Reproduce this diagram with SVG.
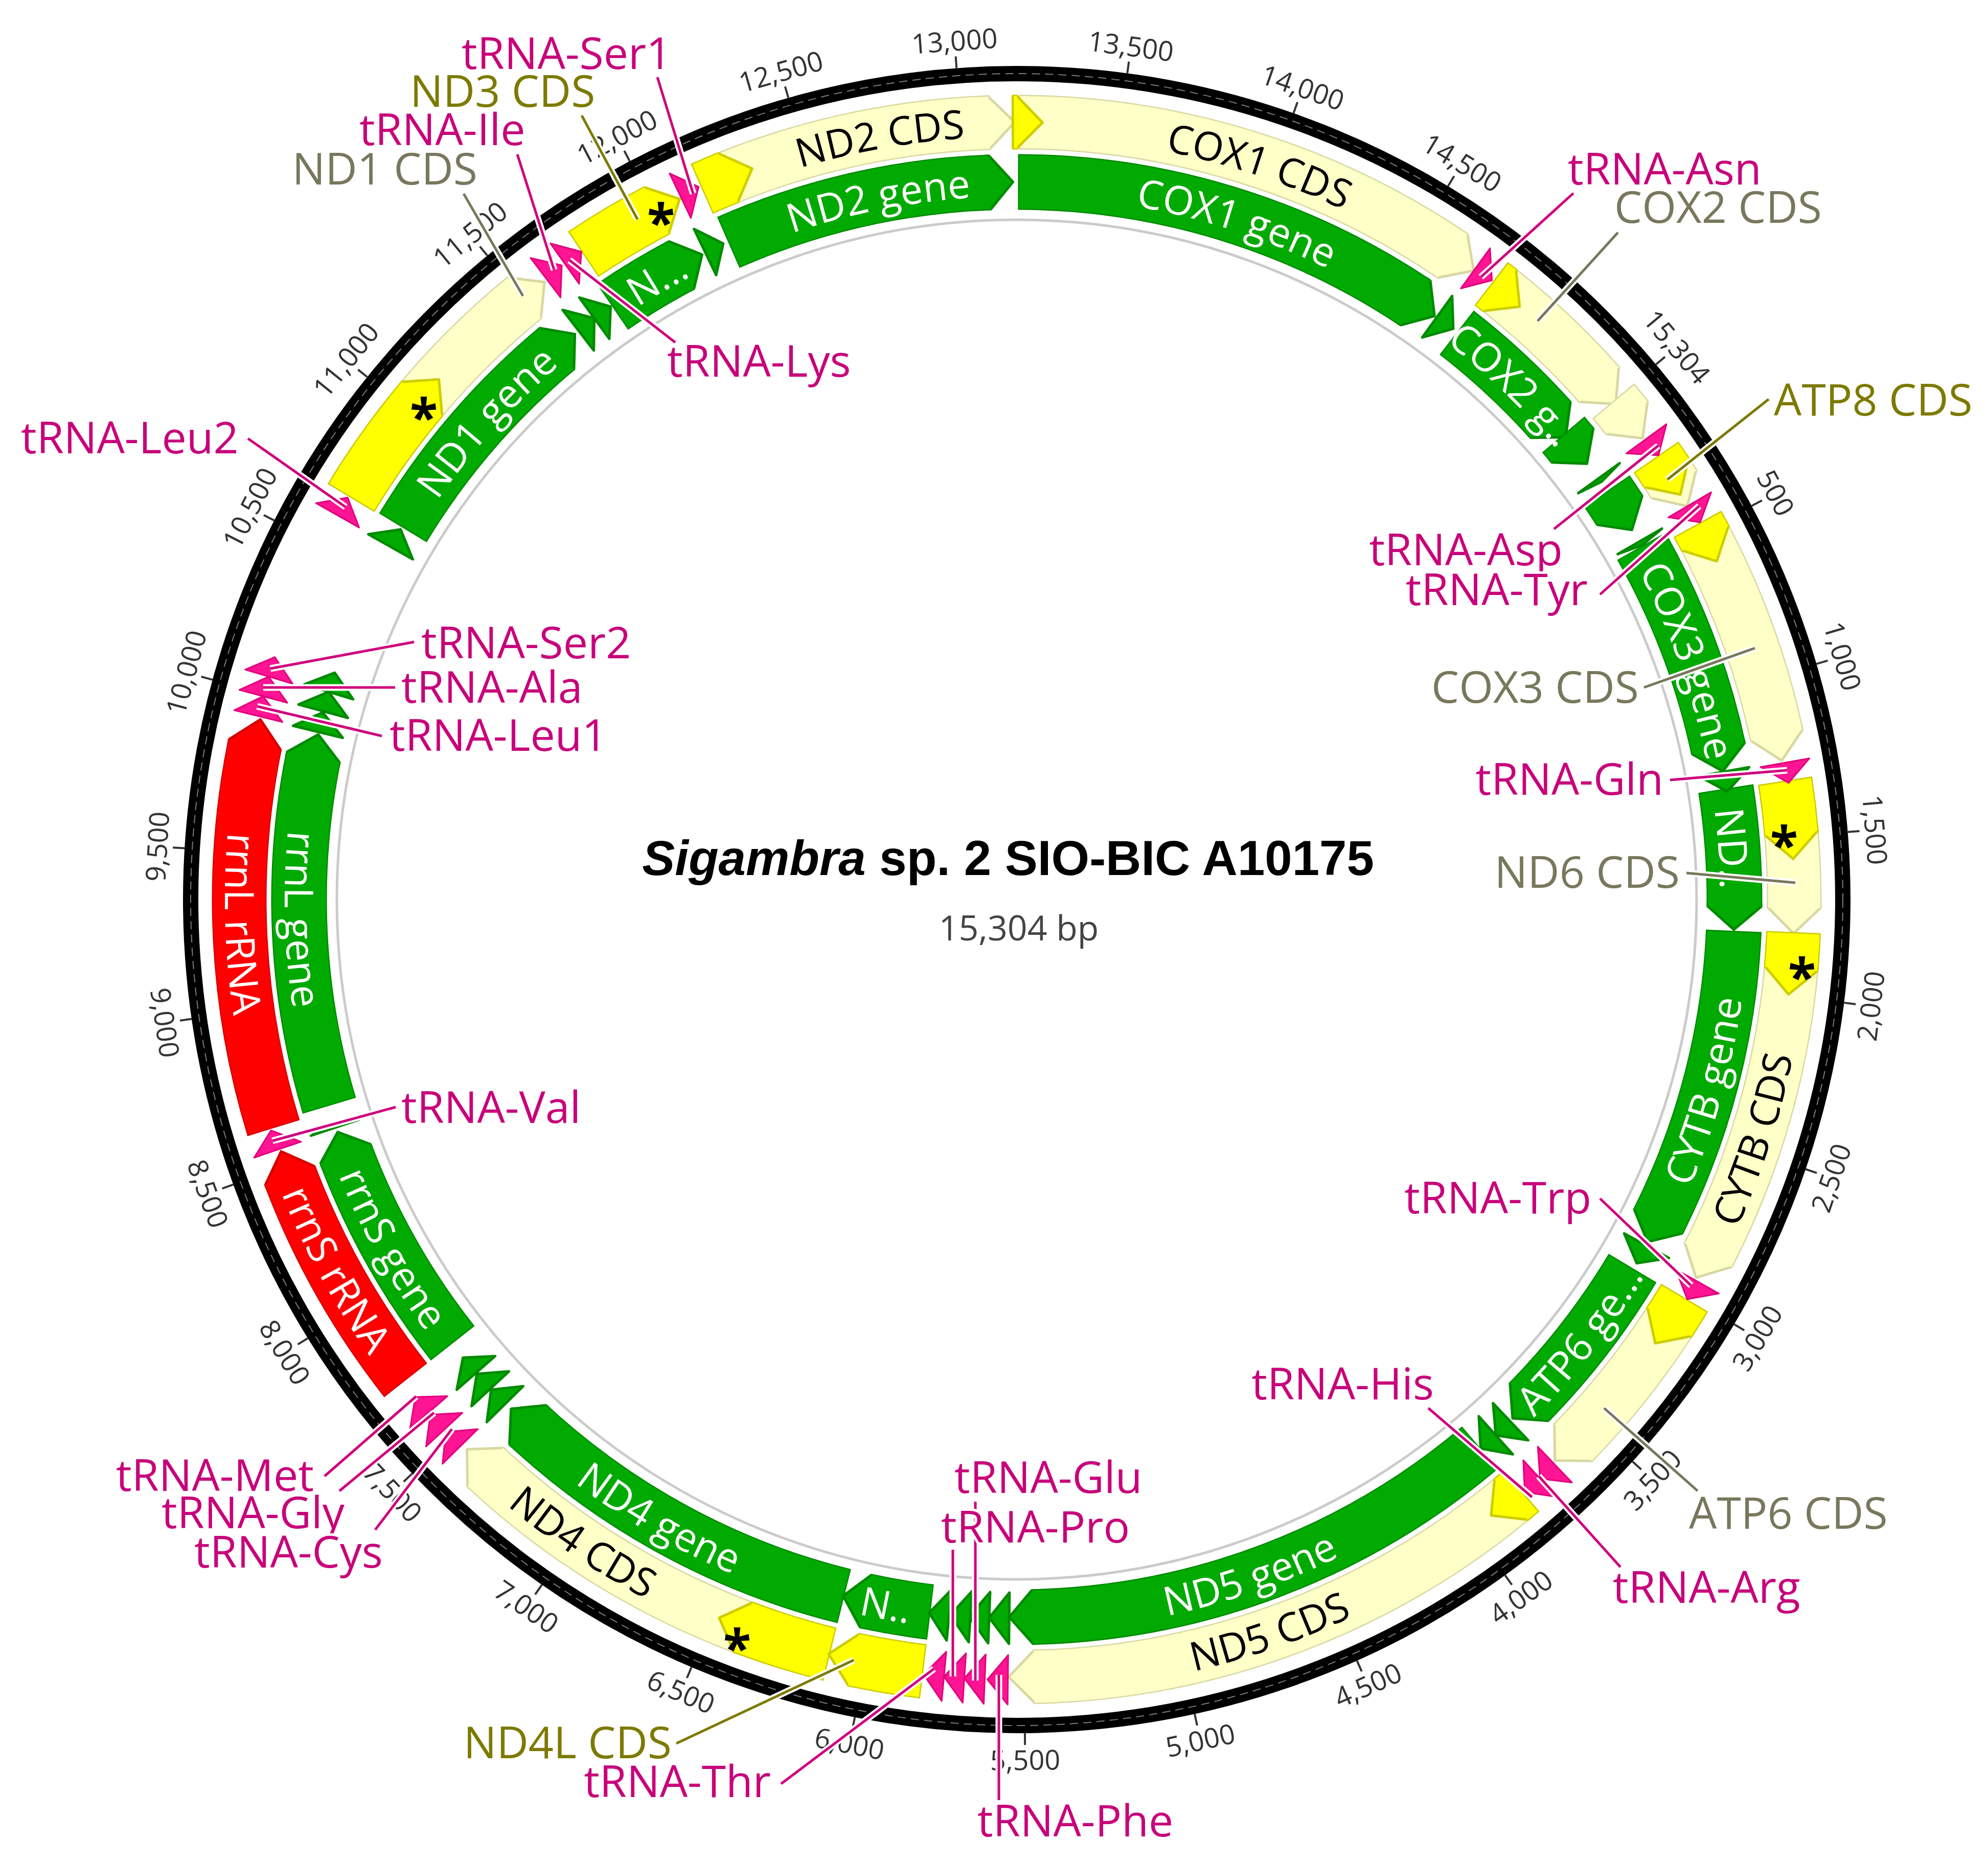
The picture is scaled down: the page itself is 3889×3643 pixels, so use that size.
<svg xmlns="http://www.w3.org/2000/svg" width="3889" height="3643" viewBox="0 0 3889 3643">
<style>
.t{fill:none}
.cO{stroke-width:107}.cB{stroke-width:102}
.gO{stroke-width:109}.gB{stroke-width:104}
.lyO{stroke:#d8d8a2}.lyB{stroke:#ffffc8}.ly{fill:#ffffc8;stroke:#d8d8a2;stroke-width:5;stroke-linejoin:round}
.byO{stroke:#cdcd00}.byB{stroke:#ffff00}.by{fill:#ffff00;stroke:#cdcd00;stroke-width:5;stroke-linejoin:round}
.grO{stroke:#008a00}.grB{stroke:#00aa00}.gr{fill:#00aa00;stroke:#008a00;stroke-width:5;stroke-linejoin:round}
.rdO{stroke:#d80000}.rdB{stroke:#ff0000}.rd{fill:#ff0000;stroke:#d80000;stroke-width:5;stroke-linejoin:round}
.tr{fill:#ff1493;stroke:#e0007c;stroke-width:3;stroke-linejoin:round}
.fl{font-family:"Open Sans","Noto Sans","DejaVu Sans",sans-serif;font-size:78px;text-anchor:middle}
.wt{fill:#ffffff}.bk{fill:#000000}
.xl{font-family:"Open Sans","Noto Sans","DejaVu Sans",sans-serif;font-size:86px;stroke:#ffffff;stroke-width:10;stroke-linejoin:round;paint-order:stroke}
.mg{fill:#c8007a}.ol{fill:#7d7a00}.gy{fill:#77785c}
.e{text-anchor:end}
.lh{fill:none;stroke:#ffffff;stroke-width:13}
.lm{fill:none;stroke:#d0007c;stroke-width:5}
.lo{fill:none;stroke:#7d7a00;stroke-width:5}
.lg{fill:none;stroke:#77785c;stroke-width:5}
.tk{stroke:#333333;stroke-width:4}
.tl{font-family:"Open Sans","Noto Sans","DejaVu Sans",sans-serif;font-size:54px;fill:#333333;text-anchor:middle}
.ast{font-family:"Open Sans","DejaVu Sans",sans-serif;font-size:100px;font-weight:bold;fill:#000000;text-anchor:middle}
</style>
<defs>
<polygon id="ahC" points="-56.01,-1468.93 -59.89,-1570.86 -51.67,-1571.15 0,-1521 -48.31,-1469.21"/>
<polygon id="ahG" points="-50.40,-1351.06 -54.28,-1454.99 -46.66,-1455.25 0,-1404 -43.33,-1351.31"/>
<polygon id="trM" points="0,-1478 0,-1575 39.97,-1526.5"/>
<polygon id="trG" points="0,-1356 0,-1456 39.26,-1405.5"/>
<polygon id="trGt" points="0,-1356 0,-1456 8.6,-1406"/>
<line id="tk" x1="0" y1="-1631" x2="0" y2="-1654"/>
<path id="pcC" d="M0,1493A1493,1493 0 1,1 0,-1493A1493,1493 0 1,1 0,1493"/>
<path id="pfC" d="M0,-1549A1549,1549 0 1,0 0,1549A1549,1549 0 1,0 0,-1549"/>
<path id="pcG" d="M0,1376A1376,1376 0 1,1 0,-1376A1376,1376 0 1,1 0,1376"/>
<path id="pfG" d="M0,-1432A1432,1432 0 1,0 0,1432A1432,1432 0 1,0 0,-1432"/>
<path id="kSer1" d="M1286,151L1356,379"/>
<path id="kIle" d="M1012,302L1084,528"/>
<path id="kLys" d="M1321,670L1114,509"/>
<path id="kAsn" d="M3078,378L2897,542"/>
<path id="kAsp" d="M3040,1035L3244,872"/>
<path id="kTyr" d="M3130,1163L3324,990"/>
<path id="kGln" d="M3267,1526L3496,1507"/>
<path id="kTrp" d="M3130,2345L3308,2515"/>
<path id="kHis" d="M2794,2755L2997,2929"/>
<path id="kArg" d="M3170,3066L3010,2888"/>
<path id="kGlu" d="M1908,2938L1908,3288"/>
<path id="kPro" d="M1864,3032L1864,3280"/>
<path id="kPhe" d="M1954,3522L1954,3277"/>
<path id="kThr" d="M1528,3490L1827,3265"/>
<path id="kMet" d="M635,2888L814,2732"/>
<path id="kGly" d="M664,2917L849,2764"/>
<path id="kCys" d="M734,2993L884,2796"/>
<path id="kVal" d="M774,2166L533,2232"/>
<path id="kSer2" d="M810,1256L529,1308"/>
<path id="kAla" d="M773,1345L515,1345"/>
<path id="kLeu1" d="M747,1440L503,1382"/>
<path id="kLeu2" d="M485,858L676,992"/>
<path id="kND3" d="M1138,226L1247,429"/>
<path id="kND1" d="M907,379L1023,579"/>
<path id="kCOX2" d="M3165,455L3008,628"/>
<path id="kATP8" d="M3460,781L3262,938"/>
<path id="kCOX3" d="M3216,1345L3433,1268"/>
<path id="kND6" d="M3299,1708L3512,1727"/>
<path id="kATP6" d="M3321,2917L3138,2755"/>
<path id="kND4L" d="M1323,3411L1670,3248"/>
</defs>
<rect width="3889" height="3643" fill="#ffffff"/>
<g id="backbone" transform="translate(1989 1760)">
<circle r="1330" fill="none" stroke="#cbcbcb" stroke-width="5"/>
<circle r="1616" fill="none" stroke="#000000" stroke-width="30"/>
<circle r="1616" fill="none" stroke="#7a7a7a" stroke-width="2" stroke-dasharray="16 10"/>
<g class="tk">
<use href="#tk" transform="rotate(61.82)"/><use href="#tk" transform="rotate(73.58)"/><use href="#tk" transform="rotate(85.35)"/><use href="#tk" transform="rotate(97.11)"/><use href="#tk" transform="rotate(108.87)"/><use href="#tk" transform="rotate(120.63)"/><use href="#tk" transform="rotate(132.39)"/><use href="#tk" transform="rotate(144.15)"/><use href="#tk" transform="rotate(155.92)"/><use href="#tk" transform="rotate(167.68)"/><use href="#tk" transform="rotate(179.44)"/><use href="#tk" transform="rotate(191.2)"/><use href="#tk" transform="rotate(202.96)"/><use href="#tk" transform="rotate(214.72)"/><use href="#tk" transform="rotate(226.48)"/><use href="#tk" transform="rotate(238.25)"/><use href="#tk" transform="rotate(250.01)"/><use href="#tk" transform="rotate(261.77)"/><use href="#tk" transform="rotate(273.53)"/><use href="#tk" transform="rotate(285.29)"/><use href="#tk" transform="rotate(297.05)"/><use href="#tk" transform="rotate(308.82)"/><use href="#tk" transform="rotate(320.58)"/><use href="#tk" transform="rotate(332.34)"/><use href="#tk" transform="rotate(344.1)"/><use href="#tk" transform="rotate(355.86)"/><use href="#tk" transform="rotate(7.62)"/><use href="#tk" transform="rotate(19.39)"/><use href="#tk" transform="rotate(31.15)"/><use href="#tk" transform="rotate(50.06)"/>
</g>
<g class="tl">
<text transform="rotate(61.82) translate(0 -1684)" y="19">500</text>
<text transform="rotate(73.58) translate(0 -1684)" y="19">1,000</text>
<text transform="rotate(85.35) translate(0 -1684)" y="19">1,500</text>
<text transform="rotate(97.11) translate(0 -1684) rotate(180)" y="19">2,000</text>
<text transform="rotate(108.87) translate(0 -1684) rotate(180)" y="19">2,500</text>
<text transform="rotate(120.63) translate(0 -1684) rotate(180)" y="19">3,000</text>
<text transform="rotate(132.39) translate(0 -1684) rotate(180)" y="19">3,500</text>
<text transform="rotate(144.15) translate(0 -1684) rotate(180)" y="19">4,000</text>
<text transform="rotate(155.92) translate(0 -1684) rotate(180)" y="19">4,500</text>
<text transform="rotate(167.68) translate(0 -1684) rotate(180)" y="19">5,000</text>
<text transform="rotate(179.44) translate(0 -1684) rotate(180)" y="19">5,500</text>
<text transform="rotate(191.2) translate(0 -1684) rotate(180)" y="19">6,000</text>
<text transform="rotate(202.96) translate(0 -1684) rotate(180)" y="19">6,500</text>
<text transform="rotate(214.72) translate(0 -1684) rotate(180)" y="19">7,000</text>
<text transform="rotate(226.48) translate(0 -1684) rotate(180)" y="19">7,500</text>
<text transform="rotate(238.25) translate(0 -1684) rotate(180)" y="19">8,000</text>
<text transform="rotate(250.01) translate(0 -1684) rotate(180)" y="19">8,500</text>
<text transform="rotate(261.77) translate(0 -1684) rotate(180)" y="19">9,000</text>
<text transform="rotate(273.53) translate(0 -1684)" y="19">9,500</text>
<text transform="rotate(285.29) translate(0 -1684)" y="19">10,000</text>
<text transform="rotate(297.05) translate(0 -1684)" y="19">10,500</text>
<text transform="rotate(308.82) translate(0 -1684)" y="19">11,000</text>
<text transform="rotate(320.58) translate(0 -1684)" y="19">11,500</text>
<text transform="rotate(332.34) translate(0 -1684)" y="19">12,000</text>
<text transform="rotate(344.1) translate(0 -1684)" y="19">12,500</text>
<text transform="rotate(355.86) translate(0 -1684)" y="19">13,000</text>
<text transform="rotate(7.62) translate(0 -1684)" y="19">13,500</text>
<text transform="rotate(19.39) translate(0 -1684)" y="19">14,000</text>
<text transform="rotate(31.15) translate(0 -1684)" y="19">14,500</text>
<text transform="rotate(50.06) translate(0 -1684)" y="19">15,304</text>
</g>
</g>
<g id="map" transform="translate(1989 1760)">
<g id="nd2-cds">
<circle class="t cO lyO" r="1521" pathLength="360" stroke-dasharray="21.87 400" transform="rotate(246.1)"/>
<use href="#ahC" class="ly" transform="rotate(359.85)"/>
<circle class="t cB lyB" r="1521" pathLength="360" stroke-dasharray="21.77 400" transform="rotate(246.2)"/>
<circle class="t cO byO" r="1521" pathLength="360" stroke-dasharray="2.12 400" transform="rotate(246.1)"/>
<use href="#ahC" class="by" transform="rotate(340.1)"/>
<circle class="t cB byB" r="1521" pathLength="360" stroke-dasharray="2.02 400" transform="rotate(246.2)"/>
<text class="fl bk"><textPath href="#pcC" startOffset="47.17%">ND2 CDS</textPath></text>
</g>
<g id="cox1-cds">
<circle class="t cO lyO" r="1521" pathLength="360" stroke-dasharray="33.97 400" transform="rotate(-89.85)"/>
<use href="#ahC" class="ly" transform="rotate(36)"/>
<circle class="t cB lyB" r="1521" pathLength="360" stroke-dasharray="33.87 400" transform="rotate(-89.75)"/>
<circle class="t cO byO" r="1521" pathLength="360" stroke-dasharray="0.32 400" transform="rotate(-90.3)"/>
<use href="#ahC" class="by" transform="rotate(1.9)"/>
<circle class="t cB byB" r="1521" pathLength="360" stroke-dasharray="0.22 400" transform="rotate(-90.2)"/>
<text class="fl bk"><textPath href="#pcC" startOffset="55.08%">COX1 CDS</textPath></text>
</g>
<g id="cox2-cds">
<circle class="t cO lyO" r="1521" pathLength="360" stroke-dasharray="10.92 400" transform="rotate(-52.4)"/>
<use href="#ahC" class="ly" transform="rotate(50.4)"/>
<circle class="t cB lyB" r="1521" pathLength="360" stroke-dasharray="10.82 400" transform="rotate(-52.3)"/>
<circle class="t cO lyO" r="1521" pathLength="360" stroke-dasharray="1.62 400" transform="rotate(-39.9)"/>
<use href="#ahC" class="ly" transform="rotate(53.6)"/>
<circle class="t cB lyB" r="1521" pathLength="360" stroke-dasharray="1.52 400" transform="rotate(-39.8)"/>
<circle class="t cO byO" r="1521" pathLength="360" stroke-dasharray="0.82 400" transform="rotate(-52.4)"/>
<use href="#ahC" class="by" transform="rotate(40.3)"/>
<circle class="t cB byB" r="1521" pathLength="360" stroke-dasharray="0.72 400" transform="rotate(-52.3)"/>
</g>
<g id="atp8-cds">
<circle class="t cO lyO" r="1521" pathLength="360" stroke-dasharray="2.22 400" transform="rotate(-34.5)"/>
<use href="#ahC" class="ly" transform="rotate(59.6)"/>
<circle class="t cB lyB" r="1521" pathLength="360" stroke-dasharray="2.12 400" transform="rotate(-34.4)"/>
<circle class="t cO byO" r="1521" pathLength="360" stroke-dasharray="1.42 400" transform="rotate(-34.7)"/>
<use href="#ahC" class="by" transform="rotate(58.6)"/>
<circle class="t cB byB" r="1521" pathLength="360" stroke-dasharray="1.32 400" transform="rotate(-34.6)"/>
</g>
<g id="cox3-cds">
<circle class="t cO lyO" r="1521" pathLength="360" stroke-dasharray="16.72 400" transform="rotate(-28.9)"/>
<use href="#ahC" class="ly" transform="rotate(79.7)"/>
<circle class="t cB lyB" r="1521" pathLength="360" stroke-dasharray="16.62 400" transform="rotate(-28.8)"/>
<circle class="t cO byO" r="1521" pathLength="360" stroke-dasharray="1.22 400" transform="rotate(-28.9)"/>
<use href="#ahC" class="by" transform="rotate(64.2)"/>
<circle class="t cB byB" r="1521" pathLength="360" stroke-dasharray="1.12 400" transform="rotate(-28.8)"/>
</g>
<g id="nd6-cds">
<circle class="t cO lyO" r="1521" pathLength="360" stroke-dasharray="9.42 400" transform="rotate(-8.8)"/>
<use href="#ahC" class="ly" transform="rotate(92.5)"/>
<circle class="t cB lyB" r="1521" pathLength="360" stroke-dasharray="9.32 400" transform="rotate(-8.7)"/>
<circle class="t cO byO" r="1521" pathLength="360" stroke-dasharray="3.92 400" transform="rotate(-8.8)"/>
<use href="#ahC" class="by" transform="rotate(87)"/>
<circle class="t cB byB" r="1521" pathLength="360" stroke-dasharray="3.82 400" transform="rotate(-8.7)"/>
</g>
<g id="cytb-cds">
<circle class="t cO lyO" r="1521" pathLength="360" stroke-dasharray="24.82 400" transform="rotate(2.4)"/>
<use href="#ahC" class="ly" transform="rotate(119.1)"/>
<circle class="t cB lyB" r="1521" pathLength="360" stroke-dasharray="24.72 400" transform="rotate(2.5)"/>
<circle class="t cO byO" r="1521" pathLength="360" stroke-dasharray="2.72 400" transform="rotate(2.4)"/>
<use href="#ahC" class="by" transform="rotate(97)"/>
<circle class="t cB byB" r="1521" pathLength="360" stroke-dasharray="2.62 400" transform="rotate(2.5)"/>
<text class="fl bk"><textPath href="#pfC" startOffset="70%">CYTB CDS</textPath></text>
</g>
<g id="atp6-cds">
<circle class="t cO lyO" r="1521" pathLength="360" stroke-dasharray="13.52 400" transform="rotate(30.8)"/>
<use href="#ahC" class="ly" transform="rotate(136.2)"/>
<circle class="t cB lyB" r="1521" pathLength="360" stroke-dasharray="13.42 400" transform="rotate(30.9)"/>
<circle class="t cO byO" r="1521" pathLength="360" stroke-dasharray="2.12 400" transform="rotate(30.8)"/>
<use href="#ahC" class="by" transform="rotate(124.8)"/>
<circle class="t cB byB" r="1521" pathLength="360" stroke-dasharray="2.02 400" transform="rotate(30.9)"/>
</g>
<g id="nd5-cds">
<circle class="t cO lyO" r="1521" pathLength="360" stroke-dasharray="39.22 400" transform="rotate(49.5)"/>
<use href="#ahC" class="ly" transform="rotate(180.6)"/>
<circle class="t cB lyB" r="1521" pathLength="360" stroke-dasharray="39.12 400" transform="rotate(49.6)"/>
<circle class="t cO byO" r="1521" pathLength="360" stroke-dasharray="1.02 400" transform="rotate(49.5)"/>
<use href="#ahC" class="by" transform="rotate(142.4)"/>
<circle class="t cB byB" r="1521" pathLength="360" stroke-dasharray="0.92 400" transform="rotate(49.6)"/>
<text class="fl bk"><textPath href="#pfC" startOffset="55.28%">ND5 CDS</textPath></text>
</g>
<g id="nd4-cds">
<circle class="t cO lyO" r="1521" pathLength="360" stroke-dasharray="29.22 400" transform="rotate(103.9)"/>
<use href="#ahC" class="ly" transform="rotate(225)"/>
<circle class="t cB lyB" r="1521" pathLength="360" stroke-dasharray="29.12 400" transform="rotate(104)"/>
<circle class="t cO byO" r="1521" pathLength="360" stroke-dasharray="6.72 400" transform="rotate(103.9)"/>
<use href="#ahC" class="by" transform="rotate(202.5)"/>
<circle class="t cB byB" r="1521" pathLength="360" stroke-dasharray="6.62 400" transform="rotate(104)"/>
<text class="fl bk"><textPath href="#pfC" startOffset="40.56%">ND4 CDS</textPath></text>
</g>
<g id="nd4l-cds">
<circle class="t cO byO" r="1521" pathLength="360" stroke-dasharray="5.22 400" transform="rotate(96.9)"/>
<use href="#ahC" class="by" transform="rotate(194)"/>
<circle class="t cB byB" r="1521" pathLength="360" stroke-dasharray="5.12 400" transform="rotate(97)"/>
</g>
<g id="rrns-rrna">
<circle class="t cO rdO" r="1521" pathLength="360" stroke-dasharray="17.42 400" transform="rotate(141.8)"/>
<use href="#ahC" class="rd" transform="rotate(251.1)"/>
<circle class="t cB rdB" r="1521" pathLength="360" stroke-dasharray="17.32 400" transform="rotate(141.9)"/>
<text class="fl wt"><textPath href="#pfC" startOffset="32.92%">rrnS rRNA</textPath></text>
</g>
<g id="rrnl-rrna">
<circle class="t cO rdO" r="1521" pathLength="360" stroke-dasharray="28.62 400" transform="rotate(162.9)"/>
<use href="#ahC" class="rd" transform="rotate(283.4)"/>
<circle class="t cB rdB" r="1521" pathLength="360" stroke-dasharray="28.52 400" transform="rotate(163)"/>
<text class="fl wt"><textPath href="#pfC" startOffset="25.5%">rrnL rRNA</textPath></text>
</g>
<g id="nd1-cds">
<circle class="t cO lyO" r="1521" pathLength="360" stroke-dasharray="19.62 400" transform="rotate(211.1)"/>
<use href="#ahC" class="ly" transform="rotate(322.6)"/>
<circle class="t cB lyB" r="1521" pathLength="360" stroke-dasharray="19.52 400" transform="rotate(211.2)"/>
<circle class="t cO byO" r="1521" pathLength="360" stroke-dasharray="9.02 400" transform="rotate(211.1)"/>
<use href="#ahC" class="by" transform="rotate(312)"/>
<circle class="t cB byB" r="1521" pathLength="360" stroke-dasharray="8.92 400" transform="rotate(211.2)"/>
</g>
<g id="nd3-cds">
<circle class="t cO byO" r="1521" pathLength="360" stroke-dasharray="6.32 400" transform="rotate(236.1)"/>
<use href="#ahC" class="by" transform="rotate(334.3)"/>
<circle class="t cB byB" r="1521" pathLength="360" stroke-dasharray="6.22 400" transform="rotate(236.2)"/>
</g>
<g id="cox1-gene">
<circle class="t gO grO" r="1404" pathLength="360" stroke-dasharray="33.66 400" transform="rotate(-89.9)"/>
<use href="#ahG" class="gr" transform="rotate(35.6)"/>
<circle class="t gB grB" r="1404" pathLength="360" stroke-dasharray="33.56 400" transform="rotate(-89.8)"/>
<text class="fl wt"><textPath href="#pcG" startOffset="55%">COX1 gene</textPath></text>
</g>
<g id="cox2-gene">
<circle class="t gO grO" r="1404" pathLength="360" stroke-dasharray="10.26 400" transform="rotate(-52.2)"/>
<use href="#ahG" class="gr" transform="rotate(49.9)"/>
<circle class="t gB grB" r="1404" pathLength="360" stroke-dasharray="10.16 400" transform="rotate(-52.1)"/>
<circle class="t gO grO" r="1404" pathLength="360" stroke-dasharray="1.16 400" transform="rotate(-40.4)"/>
<use href="#ahG" class="gr" transform="rotate(52.6)"/>
<circle class="t gB grB" r="1404" pathLength="360" stroke-dasharray="1.06 400" transform="rotate(-40.3)"/>
<text class="fl wt"><textPath href="#pcG" startOffset="62.19%">COX2 g..</textPath></text>
</g>
<g id="atp8-gene">
<circle class="t gO grO" r="1404" pathLength="360" stroke-dasharray="1.86 400" transform="rotate(-34.7)"/>
<use href="#ahG" class="gr" transform="rotate(59)"/>
<circle class="t gB grB" r="1404" pathLength="360" stroke-dasharray="1.76 400" transform="rotate(-34.6)"/>
</g>
<g id="cox3-gene">
<circle class="t gO grO" r="1404" pathLength="360" stroke-dasharray="17.36 400" transform="rotate(-29.5)"/>
<use href="#ahG" class="gr" transform="rotate(79.7)"/>
<circle class="t gB grB" r="1404" pathLength="360" stroke-dasharray="17.26 400" transform="rotate(-29.4)"/>
<text class="fl wt"><textPath href="#pcG" startOffset="69.56%">COX3 gene</textPath></text>
</g>
<g id="nd6-gene">
<circle class="t gO grO" r="1404" pathLength="360" stroke-dasharray="9.46 400" transform="rotate(-8.9)"/>
<use href="#ahG" class="gr" transform="rotate(92.4)"/>
<circle class="t gB grB" r="1404" pathLength="360" stroke-dasharray="9.36 400" transform="rotate(-8.8)"/>
<text class="fl wt"><textPath href="#pcG" startOffset="73.86%">ND..</textPath></text>
</g>
<g id="cytb-gene">
<circle class="t gO grO" r="1404" pathLength="360" stroke-dasharray="24.16 400" transform="rotate(2.5)"/>
<use href="#ahG" class="gr" transform="rotate(118.5)"/>
<circle class="t gB grB" r="1404" pathLength="360" stroke-dasharray="24.06 400" transform="rotate(2.6)"/>
<text class="fl wt"><textPath href="#pfG" startOffset="70.69%">CYTB gene</textPath></text>
</g>
<g id="atp6-gene">
<circle class="t gO grO" r="1404" pathLength="360" stroke-dasharray="13.56 400" transform="rotate(30.9)"/>
<use href="#ahG" class="gr" transform="rotate(136.3)"/>
<circle class="t gB grB" r="1404" pathLength="360" stroke-dasharray="13.46 400" transform="rotate(31)"/>
<text class="fl wt"><textPath href="#pfG" startOffset="64.44%">ATP6 ge...</textPath></text>
</g>
<g id="nd5-gene">
<circle class="t gO grO" r="1404" pathLength="360" stroke-dasharray="38.96 400" transform="rotate(49.8)"/>
<use href="#ahG" class="gr" transform="rotate(180.6)"/>
<circle class="t gB grB" r="1404" pathLength="360" stroke-dasharray="38.86 400" transform="rotate(49.9)"/>
<text class="fl wt"><textPath href="#pfG" startOffset="55.28%">ND5 gene</textPath></text>
</g>
<g id="nd4-gene">
<circle class="t gO grO" r="1404" pathLength="360" stroke-dasharray="29.06 400" transform="rotate(103.9)"/>
<use href="#ahG" class="gr" transform="rotate(224.8)"/>
<circle class="t gB grB" r="1404" pathLength="360" stroke-dasharray="28.96 400" transform="rotate(104)"/>
<text class="fl wt"><textPath href="#pfG" startOffset="41.67%">ND4 gene</textPath></text>
</g>
<g id="nd4l-gene">
<circle class="t gO grO" r="1404" pathLength="360" stroke-dasharray="5.26 400" transform="rotate(96.9)"/>
<use href="#ahG" class="gr" transform="rotate(194)"/>
<circle class="t gB grB" r="1404" pathLength="360" stroke-dasharray="5.16 400" transform="rotate(97)"/>
<text class="fl wt"><textPath href="#pfG" startOffset="47.08%">N..</textPath></text>
</g>
<g id="rrns-gene">
<circle class="t gO grO" r="1404" pathLength="360" stroke-dasharray="17.46 400" transform="rotate(141.8)"/>
<use href="#ahG" class="gr" transform="rotate(251.1)"/>
<circle class="t gB grB" r="1404" pathLength="360" stroke-dasharray="17.36 400" transform="rotate(141.9)"/>
<text class="fl wt"><textPath href="#pfG" startOffset="33.11%">rrnS gene</textPath></text>
</g>
<g id="rrnl-gene">
<circle class="t gO grO" r="1404" pathLength="360" stroke-dasharray="28.16 400" transform="rotate(163.3)"/>
<use href="#ahG" class="gr" transform="rotate(283.3)"/>
<circle class="t gB grB" r="1404" pathLength="360" stroke-dasharray="28.06 400" transform="rotate(163.4)"/>
<text class="fl wt"><textPath href="#pfG" startOffset="25.44%">rrnL gene</textPath></text>
</g>
<g id="nd1-gene">
<circle class="t gO grO" r="1404" pathLength="360" stroke-dasharray="18.96 400" transform="rotate(211.2)"/>
<use href="#ahG" class="gr" transform="rotate(322)"/>
<circle class="t gB grB" r="1404" pathLength="360" stroke-dasharray="18.86 400" transform="rotate(211.3)"/>
<text class="fl wt"><textPath href="#pcG" startOffset="36.67%">ND1 gene</textPath></text>
</g>
<g id="nd3-gene">
<circle class="t gO grO" r="1404" pathLength="360" stroke-dasharray="6.46 400" transform="rotate(235.7)"/>
<use href="#ahG" class="gr" transform="rotate(334)"/>
<circle class="t gB grB" r="1404" pathLength="360" stroke-dasharray="6.36 400" transform="rotate(235.8)"/>
<text class="fl wt"><textPath href="#pcG" startOffset="41.64%">N...</textPath></text>
</g>
<g id="nd2-gene">
<circle class="t gO grO" r="1404" pathLength="360" stroke-dasharray="21.56 400" transform="rotate(246.3)"/>
<use href="#ahG" class="gr" transform="rotate(359.7)"/>
<circle class="t gB grB" r="1404" pathLength="360" stroke-dasharray="21.46 400" transform="rotate(246.4)"/>
<text class="fl wt"><textPath href="#pcG" startOffset="46.89%">ND2 gene</textPath></text>
</g>
<g id="trna-asn"><use href="#trG" class="gr" transform="rotate(35.8)"/><use href="#trM" class="tr" transform="rotate(36)"/></g>
<g id="trna-asp"><use href="#trGt" class="gr" transform="rotate(54.1)"/><use href="#trM" class="tr" transform="rotate(53.8)"/></g>
<g id="trna-tyr"><use href="#trGt" class="gr" transform="rotate(60.1)"/><use href="#trM" class="tr" transform="rotate(59.6)"/></g>
<g id="trna-gln"><use href="#trG" class="gr" transform="rotate(79.75)"/><use href="#trM" class="tr" transform="rotate(79.9)"/></g>
<g id="trna-trp"><use href="#trG" class="gr" transform="rotate(118.8)"/><use href="#trM" class="tr" transform="rotate(119.3)"/></g>
<g id="trna-arg"><use href="#trG" class="gr" transform="rotate(136.6)"/><use href="#trM" class="tr" transform="rotate(136.4)"/></g>
<g id="trna-his"><use href="#trG" class="gr" transform="rotate(138.2)"/><use href="#trM" class="tr" transform="rotate(137.9)"/></g>
<g id="trna-phe"><use href="#trG" class="gr" transform="rotate(180.6)"/><use href="#trM" class="tr" transform="rotate(180.65)"/></g>
<g id="trna-glu"><use href="#trG" class="gr" transform="rotate(182.2)"/><use href="#trM" class="tr" transform="rotate(182.35)"/></g>
<g id="trna-pro"><use href="#trG" class="gr" transform="rotate(183.7)"/><use href="#trM" class="tr" transform="rotate(183.85)"/></g>
<g id="trna-thr"><use href="#trG" class="gr" transform="rotate(185.4)"/><use href="#trM" class="tr" transform="rotate(185.35)"/></g>
<g id="trna-cys"><use href="#trG" class="gr" transform="rotate(225.4)"/><use href="#trM" class="tr" transform="rotate(225.5)"/></g>
<g id="trna-gly"><use href="#trG" class="gr" transform="rotate(227.1)"/><use href="#trM" class="tr" transform="rotate(227.2)"/></g>
<g id="trna-met"><use href="#trG" class="gr" transform="rotate(228.8)"/><use href="#trM" class="tr" transform="rotate(228.9)"/></g>
<g id="trna-val"><use href="#trGt" class="gr" transform="rotate(251.5)"/><use href="#trM" class="tr" transform="rotate(251.3)"/></g>
<g id="trna-leu1"><use href="#trG" class="gr" transform="rotate(283.5)"/><use href="#trM" class="tr" transform="rotate(283.6)"/></g>
<g id="trna-ala"><use href="#trG" class="gr" transform="rotate(285.2)"/><use href="#trM" class="tr" transform="rotate(285.1)"/></g>
<g id="trna-ser2"><use href="#trG" class="gr" transform="rotate(286.8)"/><use href="#trM" class="tr" transform="rotate(286.6)"/></g>
<g id="trna-leu2"><use href="#trG" class="gr" transform="rotate(299.4)"/><use href="#trM" class="tr" transform="rotate(299.5)"/></g>
<g id="trna-ile"><use href="#trG" class="gr" transform="rotate(322.4)"/><use href="#trM" class="tr" transform="rotate(322.85)"/></g>
<g id="trna-lys"><use href="#trG" class="gr" transform="rotate(324)"/><use href="#trM" class="tr" transform="rotate(324.6)"/></g>
<g id="trna-ser1"><use href="#trG" class="gr" transform="rotate(334.3)"/><use href="#trM" class="tr" transform="rotate(334.45)"/></g>
</g>
<g id="asterisks" class="ast">
<text x="1293" y="472">*</text>
<text x="829" y="853">*</text>
<text x="3490" y="1690">*</text>
<text x="3525" y="1948">*</text>
<text x="1442" y="3261">*</text>
</g>
<g id="connectors">
<g class="lh">
<use href="#kSer1"/><use href="#kIle"/><use href="#kLys"/><use href="#kAsn"/><use href="#kAsp"/><use href="#kTyr"/><use href="#kGln"/><use href="#kTrp"/><use href="#kHis"/><use href="#kArg"/><use href="#kGlu"/><use href="#kPro"/><use href="#kPhe"/><use href="#kThr"/><use href="#kMet"/><use href="#kGly"/><use href="#kCys"/><use href="#kVal"/><use href="#kSer2"/><use href="#kAla"/><use href="#kLeu1"/><use href="#kLeu2"/><use href="#kND3"/><use href="#kND1"/><use href="#kCOX2"/><use href="#kATP8"/><use href="#kCOX3"/><use href="#kND6"/><use href="#kATP6"/><use href="#kND4L"/>
</g>
<g class="lm">
<use href="#kSer1"/><use href="#kIle"/><use href="#kLys"/><use href="#kAsn"/><use href="#kAsp"/><use href="#kTyr"/><use href="#kGln"/><use href="#kTrp"/><use href="#kHis"/><use href="#kArg"/><use href="#kGlu"/><use href="#kPro"/><use href="#kPhe"/><use href="#kThr"/><use href="#kMet"/><use href="#kGly"/><use href="#kCys"/><use href="#kVal"/><use href="#kSer2"/><use href="#kAla"/><use href="#kLeu1"/><use href="#kLeu2"/>
</g>
<g class="lo"><use href="#kND3"/><use href="#kATP8"/><use href="#kND4L"/></g>
<g class="lg"><use href="#kND1"/><use href="#kCOX2"/><use href="#kCOX3"/><use href="#kND6"/><use href="#kATP6"/></g>
</g>
<g id="labels" class="xl">
<text class="mg" x="903" y="135">tRNA-Ser1</text>
<text class="ol" x="802" y="209">ND3 CDS</text>
<text class="mg" x="703" y="284">tRNA-Ile</text>
<text class="gy e" x="934" y="361">ND1 CDS</text>
<text class="mg" x="1305" y="737">tRNA-Lys</text>
<text class="mg" x="3067" y="361">tRNA-Asn</text>
<text class="gy" x="3158" y="436">COX2 CDS</text>
<text class="ol" x="3470" y="813">ATP8 CDS</text>
<text class="mg e" x="3057" y="1106">tRNA-Asp</text>
<text class="mg e" x="3106" y="1184">tRNA-Tyr</text>
<text class="gy e" x="3206" y="1375">COX3 CDS</text>
<text class="mg e" x="3254" y="1555">tRNA-Gln</text>
<text class="gy e" x="3286" y="1737">ND6 CDS</text>
<text class="mg e" x="3113" y="2374">tRNA-Trp</text>
<text class="mg e" x="2805" y="2738">tRNA-His</text>
<text class="gy" x="3304" y="2991">ATP6 CDS</text>
<text class="mg" x="3155" y="3136">tRNA-Arg</text>
<text class="mg" x="1867" y="2921">tRNA-Glu</text>
<text class="mg" x="1841" y="3018">tRNA-Pro</text>
<text class="mg" x="1912" y="3593">tRNA-Phe</text>
<text class="mg e" x="1508" y="3516">tRNA-Thr</text>
<text class="ol e" x="1314" y="3440">ND4L CDS</text>
<text class="mg" x="227" y="2917">tRNA-Met</text>
<text class="mg" x="316" y="2990">tRNA-Gly</text>
<text class="mg" x="380" y="3067">tRNA-Cys</text>
<text class="mg" x="785" y="2197">tRNA-Val</text>
<text class="mg" x="824" y="1288">tRNA-Ser2</text>
<text class="mg" x="785" y="1375">tRNA-Ala</text>
<text class="mg" x="762" y="1469">tRNA-Leu1</text>
<text class="mg" x="41" y="887">tRNA-Leu2</text>
</g>
<g id="title">
<text x="1972" y="1712" font-family="'Liberation Sans', Arial, sans-serif" font-weight="bold" font-size="96" text-anchor="middle" fill="#000000"><tspan font-style="italic">Sigambra</tspan> sp. 2 SIO-BIC A10175</text>
<text x="1993" y="1840" font-family="'Open Sans', 'Noto Sans', sans-serif" font-size="68" text-anchor="middle" fill="#444444">15,304 bp</text>
</g>
</svg>
